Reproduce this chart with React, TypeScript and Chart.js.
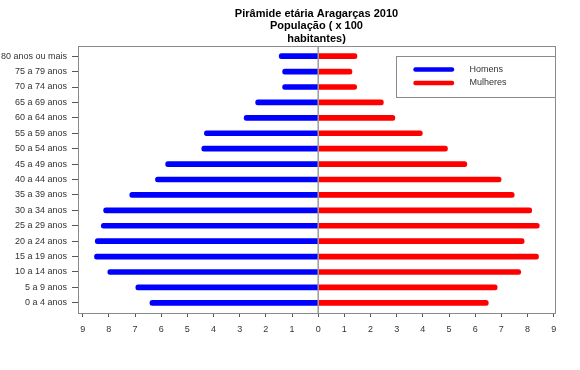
import React, { useEffect, useRef } from 'react';
import { Chart, registerables } from 'chart.js';

Chart.register(...registerables);

const AGE_GROUPS = [
  '0 a 4 anos', '5 a 9 anos', '10 a 14 anos', '15 a 19 anos', '20 a 24 anos',
  '25 a 29 anos', '30 a 34 anos', '35 a 39 anos', '40 a 44 anos', '45 a 49 anos',
  '50 a 54 anos', '55 a 59 anos', '60 a 64 anos', '65 a 69 anos', '70 a 74 anos',
  '75 a 79 anos', '80 anos ou mais',
];

// População em centenas de habitantes (0 a 4 anos ... 80 anos ou mais)
const HOMENS = [6.43, 6.97, 8.04, 8.55, 8.52, 8.29, 8.2, 7.2, 6.22, 5.83, 4.45, 4.35, 2.83, 2.39, 1.36, 1.36, 1.49];
const MULHERES = [6.5, 6.84, 7.74, 8.42, 7.87, 8.45, 8.16, 7.49, 6.99, 5.68, 4.94, 3.98, 2.93, 2.49, 1.47, 1.29, 1.48];

const X_TICKS = [-9, -8, -7, -6, -5, -4, -3, -2, -1, 0, 1, 2, 3, 4, 5, 6, 7, 8, 9];

const TITLE_LINES = ['Pirâmide etária Aragarças 2010', 'População ( x 100', 'habitantes)'];
const SERIES_NAMES = ['Homens', 'Mulheres'];

const FONT = "'Liberation Sans', Arial, sans-serif";

export default function App() {
  const ref = useRef<HTMLCanvasElement | null>(null);

  useEffect(() => {
    document.body.style.margin = '0';
    const canvas = ref.current;
    if (!canvas) return;

    const decor = {
      id: 'decor',
      afterDatasetsDraw(chart: any) {
        const { ctx, chartArea } = chart;
        const xs = chart.scales.x;
        const x0 = xs.getPixelForValue(0);
        ctx.save();
        ctx.strokeStyle = '#9a9a9a';
        ctx.lineWidth = 1.5;
        ctx.beginPath();
        ctx.moveTo(x0, chartArea.top);
        ctx.lineTo(x0, chartArea.bottom);
        ctx.stroke();
        ctx.strokeStyle = '#8a8a8a';
        ctx.lineWidth = 1;
        ctx.strokeRect(chartArea.left + 0.5, chartArea.top + 0.5, chartArea.right - chartArea.left, chartArea.bottom - chartArea.top);
        ctx.restore();
      },
      afterDraw(chart: any) {
        const { ctx, chartArea } = chart;
        ctx.save();
        const cx = (chartArea.left + chartArea.right) / 2;
        ctx.fillStyle = '#000';
        ctx.font = `bold 11px ${FONT}`;
        ctx.textAlign = 'center';
        ctx.textBaseline = 'alphabetic';
        TITLE_LINES.forEach((t, i) => ctx.fillText(t, cx, 16.5 + i * 12.5));
        const lx = 396.5;
        const ly = 56.5;
        ctx.strokeStyle = '#8a8a8a';
        ctx.lineWidth = 1;
        ctx.strokeRect(lx, ly, chartArea.right + 0.5 - lx, 41);
        const ds = chart.data.datasets;
        SERIES_NAMES.forEach((name, i) => {
          const y = 69.5 + i * 13.5;
          ctx.strokeStyle = ds[i].backgroundColor;
          ctx.lineWidth = 4.5;
          ctx.lineCap = 'round';
          ctx.beginPath();
          ctx.moveTo(415.5, y);
          ctx.lineTo(452, y);
          ctx.stroke();
          ctx.fillStyle = '#333';
          ctx.font = `9px ${FONT}`;
          ctx.textAlign = 'left';
          ctx.textBaseline = 'middle';
          ctx.fillText(name, 469.5, y);
        });
        ctx.restore();
      },
    };

    const chart = new Chart(canvas, {
      type: 'bar',
      data: {
        datasets: [
          {
            label: SERIES_NAMES[0],
            data: HOMENS.map((v, i) => ({ x: [0, -v], y: i + 1 })),
            backgroundColor: '#0000ff',
          },
          {
            label: SERIES_NAMES[1],
            data: MULHERES.map((v, i) => ({ x: [0, v], y: i + 1 })),
            backgroundColor: '#ff0000',
          },
        ] as any,
      },
      options: {
        animation: false,
        responsive: false,
        indexAxis: 'y',
        layout: { padding: { left: 0, right: 25, top: 46, bottom: 0 } },
        datasets: {
          bar: {
            grouped: false,
            barThickness: 5,
            borderRadius: 2.5,
            borderSkipped: 'start',
          } as any,
        },
        plugins: {
          legend: { display: false },
          title: { display: false },
          tooltip: { enabled: false },
        },
        scales: {
          x: {
            type: 'linear',
            min: -9.18,
            max: 9.05,
            offset: false,
            afterBuildTicks: (s: any) => {
              s.ticks = X_TICKS.map((v) => ({ value: v }));
            },
            afterFit: (s: any) => {
              s.height = 57;
            },
            ticks: {
              includeBounds: false,
              autoSkip: false,
              maxRotation: 0,
              padding: 7,
              color: '#333',
              font: { family: FONT, size: 9 },
              callback: (v: any) => String(Math.abs(Number(v))),
            },
            grid: { offset: false, drawOnChartArea: false, drawTicks: true, tickLength: 4, color: '#555' },
            border: { display: false },
          },
          y: {
            type: 'linear',
            min: 0.34,
            max: 17.66,
            offset: false,
            afterBuildTicks: (s: any) => {
              s.ticks = AGE_GROUPS.map((_, i) => ({ value: i + 1 }));
            },
            afterFit: (s: any) => {
              s.width = 78;
            },
            ticks: {
              includeBounds: false,
              autoSkip: false,
              padding: 5,
              color: '#333',
              font: { family: FONT, size: 9 },
              callback: (v: any) => AGE_GROUPS[Math.round(Number(v)) - 1] ?? '',
            },
            grid: { offset: false, drawOnChartArea: false, drawTicks: true, tickLength: 6, color: '#555' },
            border: { display: false },
          },
        },
      },
      plugins: [decor],
    });

    return () => chart.destroy();
  }, []);

  return (
    <div style={{ width: 580, height: 370 }}>
      <canvas ref={ref} width={580} height={370} style={{ display: 'block' }} />
    </div>
  );
}
